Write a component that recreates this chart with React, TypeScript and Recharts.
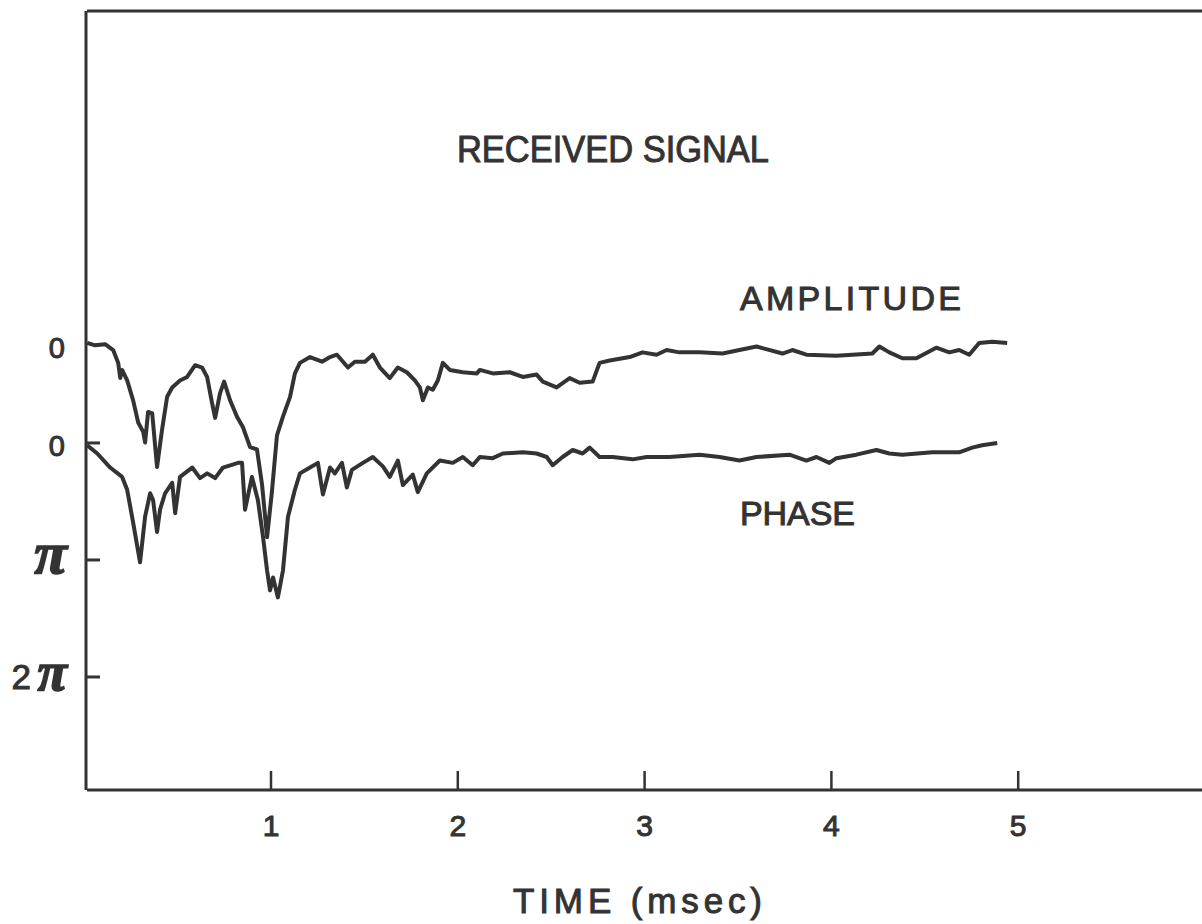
import React from "react";
import { LineChart, Line, XAxis, YAxis } from "recharts";

// received signal, amplitude trace (relative units, 0 = unattenuated level)
const amplitudeTime = [
  0.016, 0.059, 0.112, 0.155, 0.182, 0.193, 0.203, 0.23, 0.262, 0.289, 0.316, 0.326, 0.342, 0.364,
  0.39, 0.417, 0.444, 0.471, 0.513, 0.551, 0.594, 0.631, 0.658, 0.684, 0.701, 0.727, 0.749, 0.781,
  0.818, 0.85, 0.888, 0.925, 0.952, 0.979, 1.005, 1.032, 1.064, 1.102, 1.128, 1.155, 1.209, 1.273,
  1.316, 1.353, 1.412, 1.449, 1.503, 1.545, 1.583, 1.636, 1.679, 1.727, 1.77, 1.797, 1.813, 1.84,
  1.866, 1.893, 1.92, 1.957, 2.027, 2.102, 2.118, 2.187, 2.278, 2.348, 2.422, 2.455, 2.529, 2.599,
  2.652, 2.722, 2.759, 2.813, 2.92, 2.989, 3.064, 3.118, 3.187, 3.294, 3.417, 3.599, 3.738, 3.791,
  3.866, 4.027, 4.219, 4.257, 4.31, 4.38, 4.455, 4.561, 4.631, 4.684, 4.738, 4.791, 4.861, 4.941,
];
const amplitude = [
  0, -0.02, -0.01, -0.06, -0.17, -0.3, -0.23, -0.32, -0.49, -0.68, -0.76, -0.85, -0.59, -0.6,
  -1.06, -0.74, -0.46, -0.38, -0.32, -0.29, -0.19, -0.21, -0.29, -0.51, -0.64, -0.43, -0.33, -0.49,
  -0.63, -0.72, -0.89, -0.91, -1.21, -1.66, -1.27, -0.79, -0.63, -0.46, -0.26, -0.17, -0.12, -0.16,
  -0.12, -0.1, -0.21, -0.16, -0.16, -0.1, -0.21, -0.3, -0.21, -0.25, -0.32, -0.38, -0.49, -0.38,
  -0.4, -0.32, -0.17, -0.23, -0.25, -0.26, -0.23, -0.26, -0.25, -0.29, -0.27, -0.33, -0.38, -0.3,
  -0.34, -0.33, -0.17, -0.15, -0.12, -0.08, -0.1, -0.06, -0.08, -0.08, -0.09, -0.03, -0.09, -0.06,
  -0.1, -0.11, -0.09, -0.03, -0.08, -0.13, -0.13, -0.04, -0.08, -0.06, -0.1, 0, 0.01, 0,
];

// phase trace, in units of pi (drawn downward)
const phaseTime = [
  0.016, 0.07, 0.139, 0.203, 0.23, 0.262, 0.299, 0.326, 0.353, 0.369, 0.39, 0.406, 0.433, 0.471,
  0.487, 0.513, 0.578, 0.62, 0.658, 0.701, 0.743, 0.824, 0.845, 0.861, 0.898, 0.93, 0.957, 0.979,
  0.995, 1.011, 1.037, 1.064, 1.091, 1.128, 1.155, 1.209, 1.251, 1.278, 1.316, 1.342, 1.38, 1.406,
  1.433, 1.492, 1.545, 1.599, 1.636, 1.679, 1.706, 1.759, 1.786, 1.834, 1.904, 1.973, 2.027, 2.08,
  2.118, 2.187, 2.241, 2.348, 2.422, 2.476, 2.508, 2.561, 2.615, 2.668, 2.706, 2.759, 2.829, 2.936,
  3.011, 3.134, 3.294, 3.401, 3.508, 3.599, 3.775, 3.866, 3.92, 3.989, 4.027, 4.134, 4.241, 4.31,
  4.38, 4.54, 4.684, 4.754, 4.807, 4.888,
];
const phase = [
  0.02, 0.09, 0.21, 0.29, 0.4, 0.68, 1.02, 0.63, 0.43, 0.49, 0.76, 0.57, 0.43, 0.34,
  0.6, 0.29, 0.21, 0.3, 0.26, 0.3, 0.21, 0.17, 0.17, 0.57, 0.29, 0.49, 0.8, 1.09,
  1.26, 1.15, 1.32, 1.09, 0.63, 0.4, 0.26, 0.21, 0.17, 0.44, 0.21, 0.26, 0.17, 0.38,
  0.23, 0.17, 0.12, 0.2, 0.29, 0.15, 0.36, 0.27, 0.42, 0.26, 0.15, 0.17, 0.12, 0.19,
  0.12, 0.13, 0.09, 0.08, 0.09, 0.12, 0.19, 0.12, 0.06, 0.09, 0.04, 0.12, 0.12, 0.14,
  0.12, 0.12, 0.1, 0.12, 0.15, 0.12, 0.1, 0.15, 0.12, 0.17, 0.13, 0.1, 0.06, 0.09,
  0.1, 0.08, 0.08, 0.04, 0.02, 0,
];

const timeTicks = [1, 2, 3, 4, 5];
const phaseTicks = [0, 1, 2];
const phaseTickLabels = ["0", "π", "2π"];

const INK = "#333";
const SANS = "'Liberation Sans', Arial, sans-serif";
const SERIF = "'Liberation Serif', 'Times New Roman', serif";

const amplitudeData = amplitudeTime.map((t, i) => ({ t, amp: amplitude[i] }));
const phaseData = phaseTime.map((t, i) => ({ t, phase: phase[i] }));

// lettering is a touch heavier than a plain regular weight
const lettering = { fill: INK, stroke: INK, strokeWidth: 1, fontFamily: SANS };
// heavy italic pi used on the phase axis
const piGlyph = { fill: INK, stroke: INK, strokeWidth: 1.6, fontFamily: SERIF, fontStyle: "italic", fontWeight: "bold" };

function TimeTick({ x, y, payload }: any) {
  return (
    <g>
      <line x1={x} x2={x} y1={y} y2={y - 19} stroke={INK} strokeWidth={2.5} />
      <text x={x} y={y + 46} textAnchor="middle" {...lettering} fontSize={30}>
        {payload.value}
      </text>
    </g>
  );
}

function PhaseTick({ x, y, payload }: any) {
  const label = phaseTickLabels[phaseTicks.indexOf(payload.value)];
  const piOnly = label === "π";
  const withPi = label.length > 1;
  return (
    <g>
      <line x1={x} x2={x + 14} y1={y} y2={y} stroke={INK} strokeWidth={3} />
      {piOnly && (
        <text x={x - 19} y={y + 13} textAnchor="end" {...piGlyph} fontSize={60}>
          π
        </text>
      )}
      {withPi && (
        <g>
          <text x={x - 55} y={y + 12} textAnchor="end" {...lettering} fontSize={35}>
            {label[0]}
          </text>
          <text x={x - 19} y={y + 13} textAnchor="end" {...piGlyph} fontSize={54}>
            π
          </text>
        </g>
      )}
      {!piOnly && !withPi && (
        <text x={x - 21} y={y + 13} textAnchor="end" {...lettering} fontSize={29}>
          {label}
        </text>
      )}
    </g>
  );
}

function AmplitudeTick({ x, y }: any) {
  return (
    <text x={x - 22} y={y + 15} textAnchor="end" {...lettering} fontSize={29}>
      0
    </text>
  );
}

export default function App() {
  return (
    <div
      style={{
        position: "absolute",
        left: 0,
        top: 0,
        width: 1202,
        height: 924,
        overflow: "hidden",
        background: "#fff",
      }}
    >
      <LineChart width={1210} height={924} margin={{ top: 10, right: 5, bottom: 133, left: 85 }}>
        <XAxis
          xAxisId="time"
          type="number"
          dataKey="t"
          domain={[0.015, 6]}
          allowDataOverflow
          ticks={timeTicks}
          height={1}
          tickSize={0}
          tickMargin={0}
          tickLine={false}
          tick={<TimeTick />}
          axisLine={{ stroke: INK, strokeWidth: 3 }}
        />
        <XAxis
          xAxisId="top"
          orientation="top"
          type="number"
          dataKey="t"
          domain={[0.015, 6]}
          allowDataOverflow
          height={1}
          tick={false}
          tickLine={false}
          axisLine={{ stroke: INK, strokeWidth: 3 }}
        />
        <YAxis
          yAxisId="phase"
          type="number"
          reversed
          domain={[-3.692, 2.966]}
          allowDataOverflow
          ticks={phaseTicks}
          width={1}
          tickSize={0}
          tickMargin={0}
          tickLine={false}
          tick={<PhaseTick />}
          axisLine={{ stroke: INK, strokeWidth: 3 }}
        />
        <YAxis
          yAxisId="amp"
          type="number"
          domain={[-3.821, 2.838]}
          allowDataOverflow
          ticks={[0]}
          width={1}
          tickSize={0}
          tickMargin={0}
          tickLine={false}
          tick={<AmplitudeTick />}
          axisLine={false}
        />
        <Line
          data={amplitudeData}
          dataKey="amp"
          xAxisId="time"
          yAxisId="amp"
          type="linear"
          dot={false}
          activeDot={false}
          stroke={INK}
          strokeWidth={4}
          strokeLinejoin="round"
          isAnimationActive={false}
        />
        <Line
          data={phaseData}
          dataKey="phase"
          xAxisId="time"
          yAxisId="phase"
          type="linear"
          dot={false}
          activeDot={false}
          stroke={INK}
          strokeWidth={4}
          strokeLinejoin="round"
          isAnimationActive={false}
        />
        <text x={457} y={162} {...lettering} fontSize={37} textLength={312} lengthAdjust="spacingAndGlyphs">
          RECEIVED SIGNAL
        </text>
        <text x={740} y={310} {...lettering} fontSize={34} textLength={221} lengthAdjust="spacing">
          AMPLITUDE
        </text>
        <text x={740} y={525} {...lettering} fontSize={34} textLength={115} lengthAdjust="spacing">
          PHASE
        </text>
        <text x={513} y={913} {...lettering} fontSize={35} textLength={249} lengthAdjust="spacing">
          TIME  (msec)
        </text>
      </LineChart>
    </div>
  );
}
